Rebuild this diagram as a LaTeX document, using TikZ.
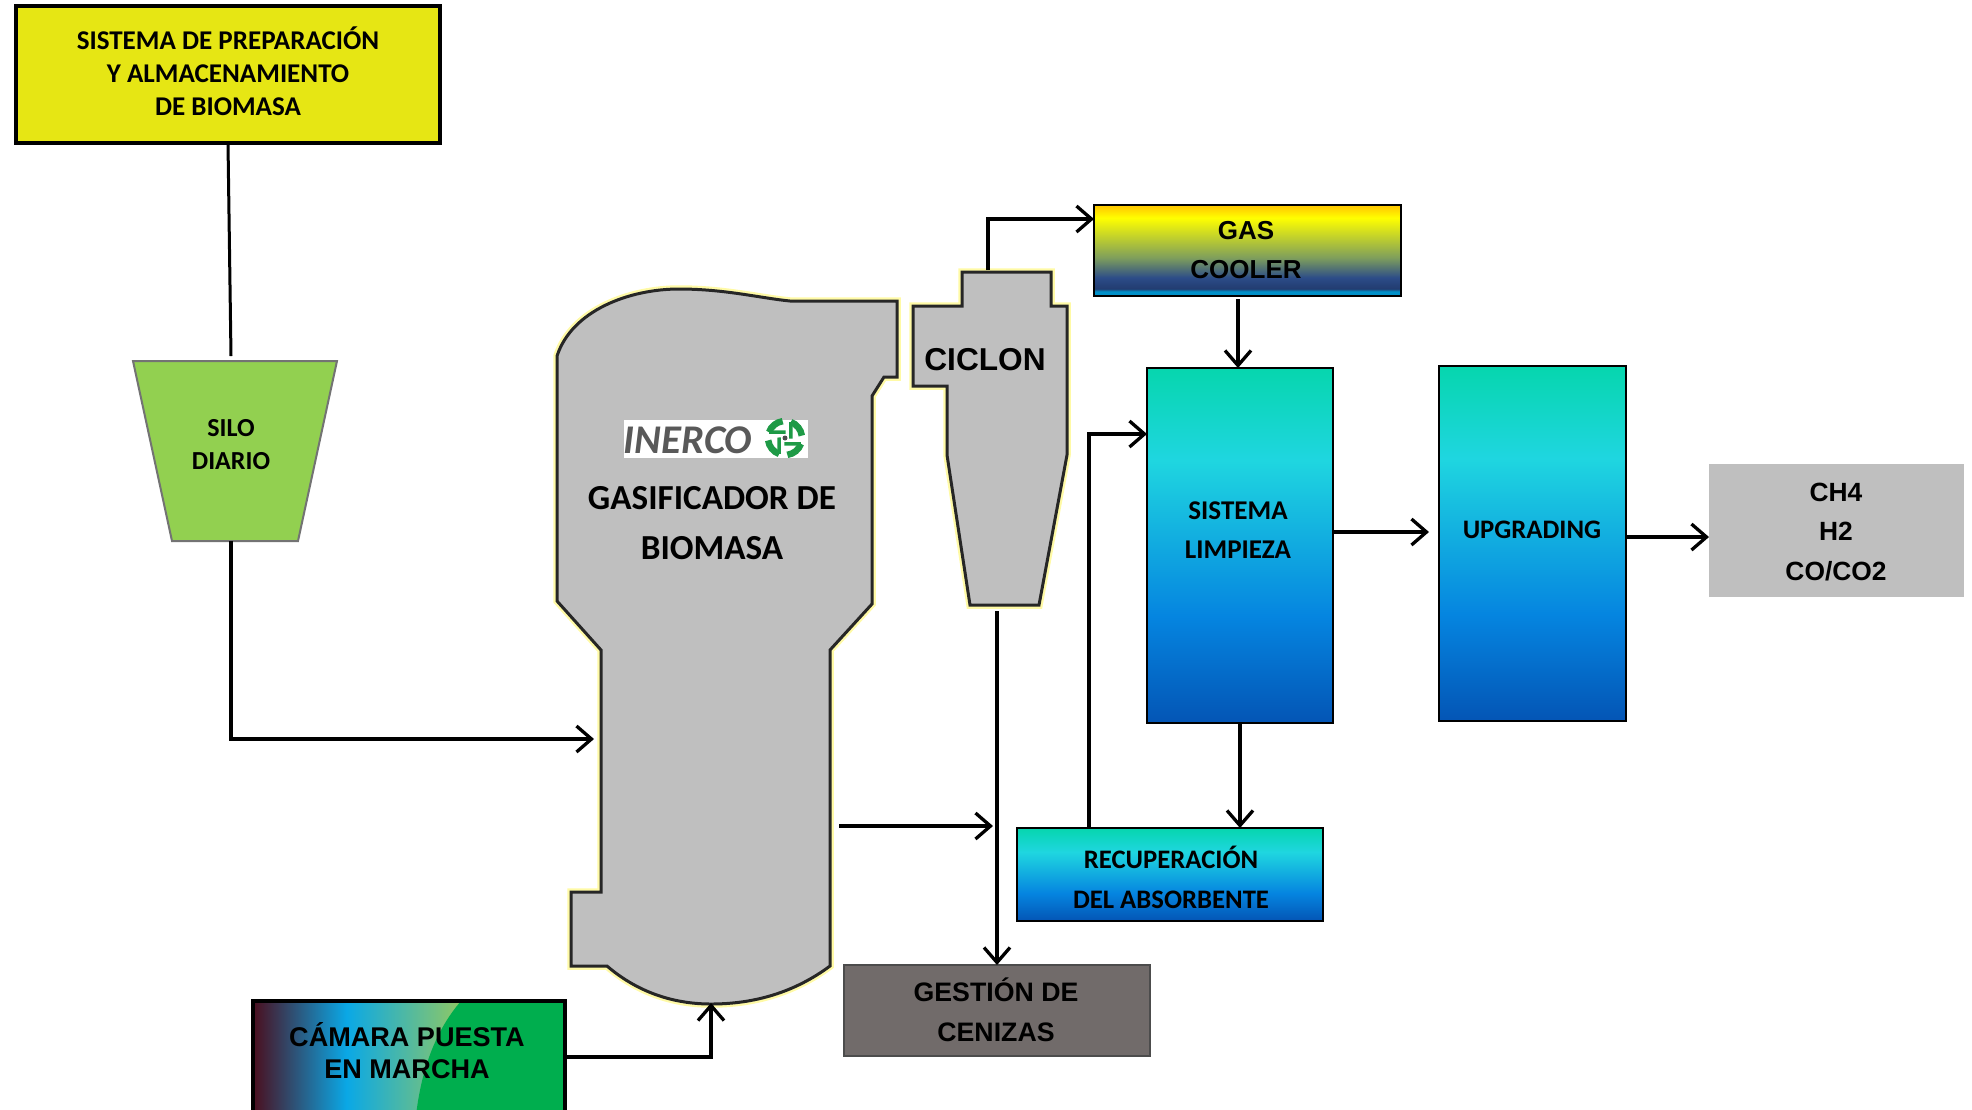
\documentclass[tikz,border=0pt]{standalone}
\usepackage{fontspec}
\setmainfont{Carlito}
\newfontfamily\arialfont{Liberation Sans}
\usetikzlibrary{arrows.meta,calc}

\definecolor{gasgray}{HTML}{BFBFBF}
\definecolor{siloverde}{HTML}{92D050}
\definecolor{prepamarillo}{HTML}{E6E614}
\definecolor{cenizagris}{HTML}{716B6A}
\definecolor{camverde}{HTML}{00AE4E}
\definecolor{logoverde}{HTML}{1E9A46}
\definecolor{limpA}{HTML}{0455B5}
\definecolor{limpB}{HTML}{0585E0}
\definecolor{limpC}{HTML}{1FD6E0}
\definecolor{limpD}{HTML}{06D6AE}
\definecolor{coolA}{HTML}{0090C8}
\definecolor{coolB}{HTML}{223C70}
\definecolor{coolC}{HTML}{2C4C88}
\definecolor{coolD}{HTML}{7E9E5C}
\definecolor{coolE}{HTML}{FFFF00}
\definecolor{coolF}{HTML}{FFCC00}
\definecolor{camA}{HTML}{4A0E1E}
\definecolor{camB}{HTML}{0AA8E6}
\definecolor{camC}{HTML}{9CCB58}

\pgfdeclareverticalshading{limpiezagrad}{100bp}{
  color(0bp)=(limpA);
  color(25bp)=(limpA);
  color(40bp)=(limpB);
  color(62bp)=(limpC);
  color(75bp)=(limpD);
  color(100bp)=(limpD)}
\pgfdeclareverticalshading{coolergrad}{100bp}{
  color(0bp)=(coolA);
  color(27.5bp)=(coolA);
  color(29bp)=(coolB);
  color(35bp)=(coolC);
  color(46bp)=(coolD);
  color(68bp)=(coolE);
  color(74bp)=(coolF);
  color(100bp)=(coolF)}
\pgfdeclarehorizontalshading{camaragrad}{100bp}{
  color(0bp)=(camA);
  color(25bp)=(camA);
  color(40bp)=(camB);
  color(60bp)=(camC);
  color(100bp)=(camC)}

\tikzset{
  caja/.style={draw=black, line width=0.2mm, inner sep=0pt, outer sep=0pt, align=center, text=black},
  limpiezabox/.style={caja, shading=limpiezagrad},
  txt/.style={inner sep=0pt, align=center, text=black},
  equipo/.style={draw=black!85, line width=0.3mm, fill=gasgray, line join=miter,
    preaction={draw=yellow!35, line width=0.75mm}},
  flujo/.style={line width=0.33mm, -{Straight Barb[length=1.5mm,width=2.6mm,line width=0.33mm]}},
  linea/.style={line width=0.3mm},
  aspa/.style={draw=logoverde, line width=0.65mm},
  aspaint/.style={draw=logoverde, line width=0.35mm}
}

\begin{document}
\begin{tikzpicture}[x=0.1mm, y=-0.1mm]
  \useasboundingbox (0,0) rectangle (1972,1109);

  % Cajas
  \node[caja, line width=0.4mm, fill=prepamarillo, minimum width=42.4mm, minimum height=13.7mm] (preparacion) at (228,74.5) {};
  \node[txt, font=\fontsize{7.7}{9.4}\selectfont\bfseries] (preparaciontxt) at (228,71.5)
    {SISTEMA DE PREPARACIÓN\\Y ALMACENAMIENTO\\DE BIOMASA};
  \node[caja, shading=coolergrad, minimum width=30.7mm, minimum height=9.1mm] (cooler) at (1247.5,250.5) {};
  \node[txt, font=\arialfont\fontsize{7.4}{11.3}\selectfont\bfseries] (coolertxt) at (1246,250) {GAS\\COOLER};
  \node[limpiezabox, minimum width=18.6mm, minimum height=35.5mm] (sistema) at (1240,545.5) {};
  \node[txt, font=\fontsize{7.7}{11.3}\selectfont\bfseries] (sistematxt) at (1238,530) {SISTEMA\\LIMPIEZA};
  \node[limpiezabox, minimum width=18.7mm, minimum height=35.5mm] (upgrading) at (1532.5,543.5) {};
  \node[txt, font=\fontsize{7.6}{10}\selectfont\bfseries] (upgradingtxt) at (1532,530) {UPGRADING};
  \node[caja, draw=none, fill=gasgray, minimum width=25.5mm, minimum height=13.3mm] (salida) at (1836.5,530.5) {};
  \node[txt, font=\arialfont\fontsize{7.5}{11.3}\selectfont\bfseries] (salidatxt) at (1836,532) {CH4\\H2\\CO/CO2};
  \node[limpiezabox, minimum width=30.6mm, minimum height=9.3mm] (recuperacion) at (1170,874.5) {};
  \node[txt, font=\fontsize{7.6}{11.4}\selectfont\bfseries] (recuperaciontxt) at (1171,877) {RECUPERACIÓN\\DEL ABSORBENTE};
  \node[caja, draw=black!70, fill=cenizagris, minimum width=30.6mm, minimum height=9.1mm] (gestion) at (997,1010.5) {};
  \node[txt, font=\arialfont\fontsize{7.6}{11.4}\selectfont\bfseries] (gestiontxt) at (996,1009.5) {GESTIÓN DE\\CENIZAS};
  \node[caja, line width=0.4mm, shading=camaragrad, minimum width=31.2mm, minimum height=12.4mm] (camara) at (409,1063) {};
  \fill[camverde] (461,1001) .. controls (436,1030) and (420,1070) .. (415,1125) -- (565,1125) -- (565,1001) -- cycle;
  \draw[line width=0.4mm] (camara.north west) rectangle (camara.south east);
  \node[txt, font=\arialfont\fontsize{7.7}{9.3}\selectfont\bfseries] (camaratxt) at (407,1050.5) {CÁMARA PUESTA\\EN MARCHA};

  % Silo
  \coordinate (siloA) at (133,361);
  \coordinate (siloB) at (337,361);
  \coordinate (siloC) at (298,541);
  \coordinate (siloD) at (172,541);
  \fill[siloverde] (siloA) -- (siloB) -- (siloC) -- (siloD) -- cycle;
  \draw[line width=0.2mm, draw=black!55] (siloA) -- (siloB) -- (siloC) -- (siloD) -- cycle;
  \node[txt, font=\fontsize{7.4}{9.4}\selectfont\bfseries] (silo) at (231,445) {SILO\\DIARIO};

  % Gasificador
  \draw[equipo] (557,356) .. controls (572,310) and (630,289) .. (679,289)
    .. controls (725,289) and (760,298) .. (790,301)
    -- (897,301) -- (897,377) -- (884,377) -- (872,396) -- (872,604) -- (830,650) -- (830,966)
    .. controls (795,992) and (755,1004) .. (711,1004)
    .. controls (670,1004) and (635,990) .. (607,966)
    -- (571,966) -- (571,892) -- (601,892) -- (601,650) -- (557,601) -- cycle;
  \node[txt, font=\fontsize{10}{14}\selectfont\bfseries] (gasificador) at (712,523) {GASIFICADOR DE\\BIOMASA};

  % Logo
  \node[fill=white, inner sep=0pt, minimum width=18.4mm, minimum height=3.8mm] (logo) at (716,439) {};
  \node[txt, font=\fontsize{11.6}{13}\selectfont\itshape\bfseries, text=black!65] (inerco) at (688,440) {INERCO};
  \coordinate (giro) at (785,438);
  \begin{scope}[shift={(giro)}]
    \foreach \ang in {20,110,200,290} {
      \draw[aspa] (\ang:17) arc[start angle=\ang, end angle=\ang+62, radius=17];
      \draw[aspaint] (\ang:17) .. controls (\ang+20:10) .. (\ang+75:6);
    }
    \fill[black!70] (0,0) circle (0.25mm);
  \end{scope}

  % Ciclon
  \draw[equipo] (962,272) -- (1051,272) -- (1051,306) -- (1067,306) -- (1067,455) -- (1039,605)
    -- (970,605) -- (947,455) -- (947,386) -- (913,386) -- (913,306) -- (962,306) -- cycle;
  \node[txt, font=\arialfont\fontsize{9}{10}\selectfont\bfseries] (ciclon) at (985,360) {CICLON};

  % Conexiones
  \coordinate (silosup) at (231,356);
  \coordinate (siloinf) at (231,541);
  \coordinate (gasent) at (594,739);
  \coordinate (gassal) at (839,826);
  \coordinate (gasfin) at (993,826);
  \coordinate (ciclonsup) at (988,270);
  \coordinate (ciclonsal) at (997,611);
  \coordinate (coolerent) at (988,219);
  \coordinate (retorno) at (1089,434);
  \coordinate (sisout) at (1333,532);
  \coordinate (upfin) at (1429,532);
  \coordinate (upout) at (1626,537);
  \coordinate (fondo) at (711,1003);
  \coordinate (camsal) at (565,1057);

  \draw[linea] (preparacion.south) -- (silosup);
  \draw[flujo] (siloinf) -- (siloinf |- gasent) -- (gasent);
  \draw[flujo] (gassal) -- (gasfin);
  \draw[flujo] (ciclonsup) -- (coolerent) -- (coolerent -| cooler.west);
  \draw[flujo] ($(sistema.north |- cooler.south)+(-2,3)$) -- ($(sistema.north)+(-2,0)$);
  \draw[flujo] (sistema.south) -- (sistema.south |- recuperacion.north);
  \draw[flujo] (recuperacion.north -| retorno) -- (retorno) -- (retorno -| sistema.west);
  \draw[flujo] (sisout) -- (upfin);
  \draw[flujo] (upout) -- (upout -| salida.west);
  \draw[flujo] (ciclonsal) -- (gestion.north);
  \draw[flujo] (camsal) -- (camsal -| fondo) -- (fondo);
\end{tikzpicture}
\end{document}
